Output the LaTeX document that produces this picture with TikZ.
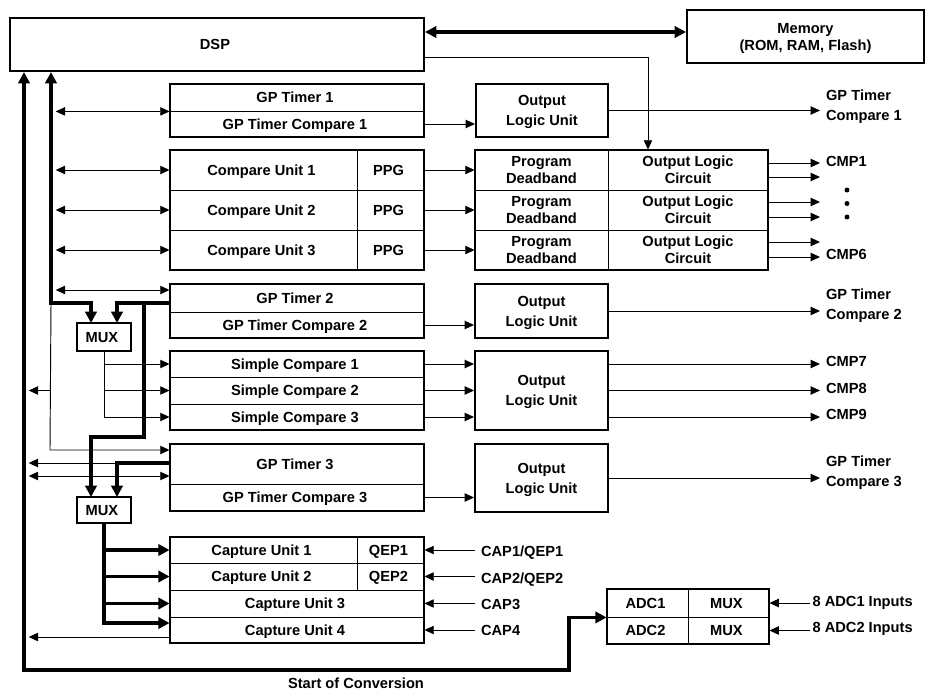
\documentclass[tikz,border=0pt]{standalone}
\usepackage{fontspec}
\setmainfont{Liberation Sans}
\usetikzlibrary{arrows.meta}

\begin{document}
\begin{tikzpicture}[
		x=0.03cm, y=-0.03cm,
		every node/.style={inner sep=0pt, text depth=0pt, align=center, font=\fontsize{12.5}{17}\selectfont\bfseries},
		tight/.style={font=\fontsize{12.5}{14.5}\selectfont\bfseries},
		box/.style 2 args={draw, line width=1.7pt, minimum width=#1*0.03cm, minimum height=#2*0.03cm},
		cell/.style 2 args={draw, line width=0.7pt, minimum width=#1*0.03cm, minimum height=#2*0.03cm},
		boxframe/.style={line width=1.7pt},
		lbl/.style={anchor=west, align=left, inner xsep=5pt},
		dot/.style={circle, fill, inner sep=1.5pt},
		arr/.style={line width=0.8pt, -{Triangle[length=2.8mm, width=2.5mm]}},
		dbl/.style={line width=0.8pt, {Triangle[length=2.8mm, width=2.5mm]}-{Triangle[length=2.8mm, width=2.5mm]}},
		bus/.style={line width=2.6pt, -{Triangle[length=3.4mm, width=3.4mm]}},
		dblbus/.style={line width=2.6pt, {Triangle[length=3.4mm, width=3.4mm]}-{Triangle[length=3.4mm, width=3.4mm]}}
	]
	\useasboundingbox (0,0) rectangle (926,691);

	\node[box={414}{53}] (dsp) at (217,44.5) { DSP };
	\node[box={237}{53}, tight] (mem) at (805.5,36.5) { Memory\\(ROM, RAM, Flash) };

	\node[cell={254}{27}] (gpt1a) at (297,97.5) { GP Timer 1 };
	\node[cell={254}{26}] (gpt1b) at (297,124) { GP Timer Compare 1 };
	\draw[boxframe] (gpt1a.north west) rectangle (gpt1b.south east);
	\node[box={132}{53}] (olu1) at (542,110.5) { Output\\Logic Unit };

	\node[cell={187}{40}] (cu1) at (263.5,170) { Compare Unit 1 };
	\node[cell={67}{40}] (ppg1) at (390.5,170) { PPG };
	\node[cell={187}{40}] (cu2) at (263.5,210) { Compare Unit 2 };
	\node[cell={67}{40}] (ppg2) at (390.5,210) { PPG };
	\node[cell={187}{40}] (cu3) at (263.5,250) { Compare Unit 3 };
	\node[cell={67}{40}] (ppg3) at (390.5,250) { PPG };
	\draw[boxframe] (cu1.north west) rectangle (ppg3.south east);

	\node[cell={133}{40}, tight] (pd1) at (541.5,170) { Program\\Deadband };
	\node[cell={160}{40}, tight] (olc1) at (688,170) { Output Logic\\Circuit };
	\node[cell={133}{40}, tight] (pd2) at (541.5,210) { Program\\Deadband };
	\node[cell={160}{40}, tight] (olc2) at (688,210) { Output Logic\\Circuit };
	\node[cell={133}{40}, tight] (pd3) at (541.5,250) { Program\\Deadband };
	\node[cell={160}{40}, tight] (olc3) at (688,250) { Output Logic\\Circuit };
	\draw[boxframe] (pd1.north west) rectangle (olc3.south east);

	\node[cell={254}{28}] (gpt2a) at (297,298) { GP Timer 2 };
	\node[cell={254}{26}] (gpt2b) at (297,325) { GP Timer Compare 2 };
	\draw[boxframe] (gpt2a.north west) rectangle (gpt2b.south east);
	\node[box={133}{54}] (olu2) at (541.5,311) { Output\\Logic Unit };
	\node[box={54}{28}] (mux1) at (104,337) { MUX };

	\node[cell={254}{26}] (sc1) at (297,364) { Simple Compare 1 };
	\node[cell={254}{27}] (sc2) at (297,390.5) { Simple Compare 2 };
	\node[cell={254}{26}] (sc3) at (297,417) { Simple Compare 3 };
	\draw[boxframe] (sc1.north west) rectangle (sc3.south east);
	\node[box={133}{79}] (olu3) at (541.5,390.5) { Output\\Logic Unit };

	\node[cell={254}{40}] (gpt3a) at (297,464) { GP Timer 3 };
	\node[cell={254}{27}] (gpt3b) at (297,497.5) { GP Timer Compare 3 };
	\draw[boxframe] (gpt3a.north west) rectangle (gpt3b.south east);
	\node[box={133}{68}] (olu4) at (541.5,478) { Output\\Logic Unit };
	\node[box={54}{26}] (mux2) at (104,510) { MUX };

	\node[cell={187}{26}] (cap1) at (263.5,550) { Capture Unit 1 };
	\node[cell={67}{26}] (qep1) at (390.5,550) { QEP1 };
	\node[cell={187}{27}] (cap2) at (263.5,576.5) { Capture Unit 2 };
	\node[cell={67}{27}] (qep2) at (390.5,576.5) { QEP2 };
	\node[cell={254}{27}] (cap3) at (297,603.5) { Capture Unit 3 };
	\node[cell={254}{26}] (cap4) at (297,630) { Capture Unit 4 };
	\draw[boxframe] (cap1.north west) rectangle (cap4.south east);

	\node[cell={81}{28}] (adc1) at (647.5,603) { ADC1 };
	\node[cell={81}{28}] (amux1) at (728.5,603) { MUX };
	\node[cell={81}{27}] (adc2) at (647.5,630.5) { ADC2 };
	\node[cell={81}{27}] (amux2) at (728.5,630.5) { MUX };
	\draw[boxframe] (adc1.north west) rectangle (amux2.south east);

	\node[lbl] (gptc1) at (820,105.5) { GP Timer\\Compare 1 };
	\node[lbl] (cmp1) at (820,161) { CMP1 };
	\node[dot] (d1) at (847,190) {};
	\node[dot] (d2) at (847,203.5) {};
	\node[dot] (d3) at (847,217) {};
	\node[lbl] (cmp6) at (820,254) { CMP6 };
	\node[lbl] (gptc2) at (820,304) { GP Timer\\Compare 2 };
	\node[lbl] (cmp7) at (820,361) { CMP7 };
	\node[lbl] (cmp8) at (820,388) { CMP8 };
	\node[lbl] (cmp9) at (820,414) { CMP9 };
	\node[lbl] (gptc3) at (820,471) { GP Timer\\Compare 3 };
	\node[lbl] (cap1in) at (475,551) { CAP1/QEP1 };
	\node[lbl] (cap2in) at (475,578) { CAP2/QEP2 };
	\node[lbl] (cap3in) at (475,604) { CAP3 };
	\node[lbl] (cap4in) at (475,630) { CAP4 };
	\node[lbl, inner xsep=2pt] (adc1in) at (810,601) { 8 ADC1 Inputs };
	\node[lbl, inner xsep=2pt] (adc2in) at (810,627) { 8 ADC2 Inputs };
	\node (soc) at (358,683) { Start of Conversion };

	\coordinate (ob) at (24,670);
	\coordinate (obr) at (569,670);
	\coordinate (ib) at (51,303);
	\coordinate (tl) at (50,450);
	\coordinate (j1) at (144,303);
	\coordinate (j2) at (144,437);
	\coordinate (m1l) at (91,323);
	\coordinate (m1r) at (117,323);
	\coordinate (m2l) at (91,497);
	\coordinate (m2r) at (117,497);
	\coordinate (dc) at (648,57);

	\draw[dblbus] (dsp.east |- 0,32) -- (mem.west |- 0,32);
	\draw[arr] (dsp.east |- dc) -- (dc) -- (dc |- olc1.north);
	\draw[dblbus] (ob |- dsp.south) -- (ob) -- (obr) |- (adc1.south west);
	\draw[dblbus] (ib |- dsp.south) -- (ib) -| (m1l);

	\draw[dbl, shorten <=4pt] (ib |- gpt1a.south) -- (gpt1a.south west);
	\draw[dbl, shorten <=4pt] (ib |- cu1.west) -- (cu1.west);
	\draw[dbl, shorten <=4pt] (ib |- cu2.west) -- (cu2.west);
	\draw[dbl, shorten <=4pt] (ib |- cu3.west) -- (cu3.west);
	\draw[dbl, shorten <=4pt] (ib |- 0,290) -- (gpt2a.west |- 0,290);

	\draw[bus] (gpt2a.west |- j1) -| (m1r);
	\draw[bus] (j1) -- (j2) -| (m2l);
	\draw[arr] (mux1.south) |- (sc3.west);
	\draw[arr] (mux1.south |- sc1.west) -- (sc1.west);
	\draw[arr] (mux1.south |- sc2.west) -- (sc2.west);

	\draw[arr] (ib) -- (tl) -- (tl -| gpt3a.west);
	\draw[arr, shorten >=4pt] (tl |- sc2.west) -- (ob |- sc2.west);
	\draw[arr, shorten >=4pt] (gpt3a.west |- 0,463) -- (ob |- 0,463);
	\draw[bus] (gpt3a.west |- 0,463) -| (m2r);
	\draw[dbl, shorten <=4pt] (ob |- 0,476) -- (gpt3a.west |- 0,476);

	\draw[bus] (mux2.south) |- (cap4.west |- 0,623);
	\draw[bus] (mux2.south |- cap1.west) -- (cap1.west);
	\draw[bus] (mux2.south |- cap2.west) -- (cap2.west);
	\draw[bus] (mux2.south |- cap3.west) -- (cap3.west);
	\draw[arr, shorten >=4pt] (cap4.west |- 0,637) -- (ob |- 0,637);

	\draw[arr] (gpt1b.east) -- (gpt1b.east -| olu1.west);
	\draw[arr] (olu1.east) -- (olu1.east -| gptc1.west);
	\draw[arr] (ppg1.east) -- (pd1.west);
	\draw[arr] (ppg2.east) -- (pd2.west);
	\draw[arr] (ppg3.east) -- (pd3.west);
	\draw[arr] (olc1.east |- 0,163) -- (cmp1.west |- 0,163);
	\draw[arr] (olc1.east |- 0,177) -- (cmp1.west |- 0,177);
	\draw[arr] (olc2.east |- 0,202) -- (cmp1.west |- 0,202);
	\draw[arr] (olc2.east |- 0,217) -- (cmp1.west |- 0,217);
	\draw[arr] (olc3.east |- 0,242) -- (cmp6.west |- 0,242);
	\draw[arr] (olc3.east |- 0,257) -- (cmp6.west |- 0,257);

	\draw[arr] (gpt2b.east) -- (gpt2b.east -| olu2.west);
	\draw[arr] (olu2.east) -- (olu2.east -| gptc2.west);
	\draw[arr] (sc1.east) -- (sc1.east -| olu3.west);
	\draw[arr] (sc2.east) -- (sc2.east -| olu3.west);
	\draw[arr] (sc3.east) -- (sc3.east -| olu3.west);
	\draw[arr] (olu3.east |- sc1.east) -- (cmp7.west |- sc1.east);
	\draw[arr] (olu3.east |- sc2.east) -- (cmp8.west |- sc2.east);
	\draw[arr] (olu3.east |- sc3.east) -- (cmp9.west |- sc3.east);
	\draw[arr] (gpt3b.east) -- (gpt3b.east -| olu4.west);
	\draw[arr] (olu4.east) -- (olu4.east -| gptc3.west);

	\draw[arr] (cap1in.west |- qep1.east) -- (qep1.east);
	\draw[arr] (cap2in.west |- qep2.east) -- (qep2.east);
	\draw[arr] (cap3in.west |- cap3.east) -- (cap3.east);
	\draw[arr] (cap4in.west |- cap4.east) -- (cap4.east);
	\draw[arr] (adc1in.west |- amux1.east) -- (amux1.east);
	\draw[arr] (adc2in.west |- amux2.east) -- (amux2.east);
\end{tikzpicture}
\end{document}
